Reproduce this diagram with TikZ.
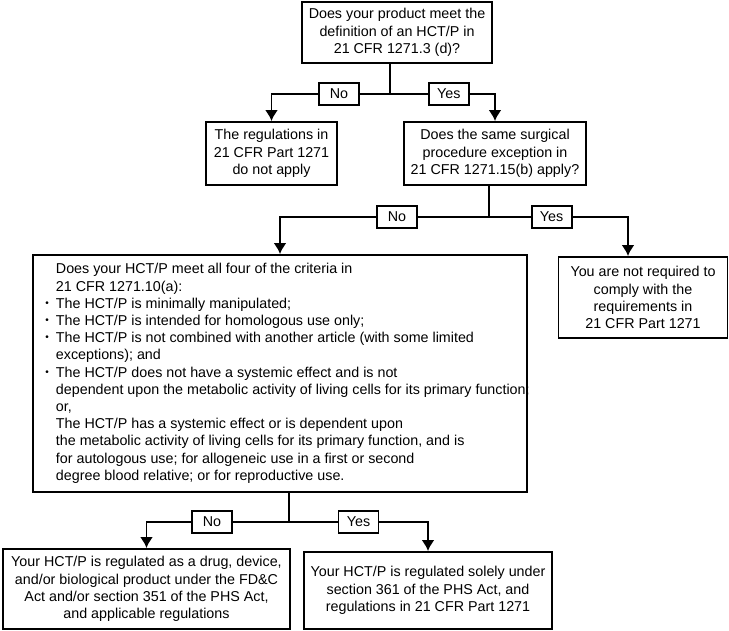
\documentclass[tikz,border=0pt]{standalone}
\usepackage{fontspec}
\setmainfont{Liberation Sans}
\usetikzlibrary{arrows.meta}
\usetikzlibrary{positioning}

% small raised bullet hanging in front of a line
\newcommand{\hbul}{\makebox[0pt][r]{\raisebox{2pt}{\fontsize{10}{10}\selectfont •}\hspace{7pt}}}

\begin{document}
\begin{tikzpicture}[x=1pt,y=-1pt,>={Latex[length=11pt,width=13pt]},line width=1.9pt]
\tikzstyle{every node}=[font=\fontsize{14.3}{17.2}\selectfont]
\tikzstyle{box}=[draw,rectangle,align=center,inner sep=2pt]
\tikzstyle{lbl}=[draw,fill=white,inner sep=1pt,minimum width=40pt,minimum height=22pt]
\useasboundingbox (0,0) rectangle (729,631);

% questions and outcomes
\path node[box,minimum width=190pt,minimum height=61pt] (q1) at (397,32.5)
  {Does your product meet the\\definition of an HCT/P in\\21 CFR 1271.3 (d)?};
\path node[box,minimum width=131pt,minimum height=63pt] (noapply) at (271.5,153.5)
  {The regulations in\\21 CFR Part 1271\\do not apply};
\path node[box,minimum width=182pt,minimum height=63pt] (q2) at (495,153.5)
  {Does the same surgical\\procedure exception in\\21 CFR 1271.15(b) apply?};
\path node[box,minimum width=169pt,minimum height=81pt] (notreq) at (643,297.5)
  {You are not required to\\comply with the\\requirements in\\21 CFR Part 1271};
\path node[draw,rectangle,minimum width=494pt,minimum height=237pt] (q3) at (280,373.5) {};
\path node[align=left,inner sep=0pt,anchor=west] (q3txt) at (55,373.5)
  {Does your HCT/P meet all four of the criteria in\\
   21 CFR 1271.10(a):\\
   \hbul The HCT/P is minimally manipulated;\\
   \hbul The HCT/P is intended for homologous use only;\\
   \hbul The HCT/P is not combined with another article (with some limited\\
   exceptions); and\\
   \hbul The HCT/P does not have a systemic effect and is not\\
   dependent upon the metabolic activity of living cells for its primary function;\\
   or,\\
   The HCT/P has a systemic effect or is dependent upon\\
   the metabolic activity of living cells for its primary function, and is\\
   for autologous use; for allogeneic use in a first or second\\
   degree blood relative; or for reproductive use.};
\path node[box,minimum width=287pt,minimum height=80pt] (r1) at (146.5,589)
  {Your HCT/P is regulated as a drug, device,\\and/or biological product under the FD\&C\\Act and/or section 351 of the PHS Act,\\and applicable regulations};
\path node[box,minimum width=248pt,minimum height=77pt] (r2) at (428,590.5)
  {Your HCT/P is regulated solely under\\section 361 of the PHS Act, and\\regulations in 21 CFR Part 1271};

% branch points
\coordinate (j1) at (390,94);
\coordinate (j2) at (489,217);
\coordinate (j3) at (289,522);

\draw (q1.south -| j1) -- (j1);
\draw[->] (j1) -| node[lbl,pos=0.215] {No} (noapply.north);
\draw[->] (j1) -| node[lbl,pos=0.28] {Yes} (q2.north);

\draw (q2.south -| j2) -- (j2);
\draw[->] (j2) -| node[lbl,pos=0.22] {No} (q3.north);
\draw[->] (j2) -| node[lbl,pos=0.225] {Yes} ([xshift=-15pt]notreq.north);

\draw (q3.south -| j3) -- (j3);
\draw[->] (j3) -| node[lbl,pos=0.27] {No} (r1.north);
\draw[->] (j3) -| node[lbl,pos=0.25] {Yes} (r2.north);
\end{tikzpicture}
\end{document}
